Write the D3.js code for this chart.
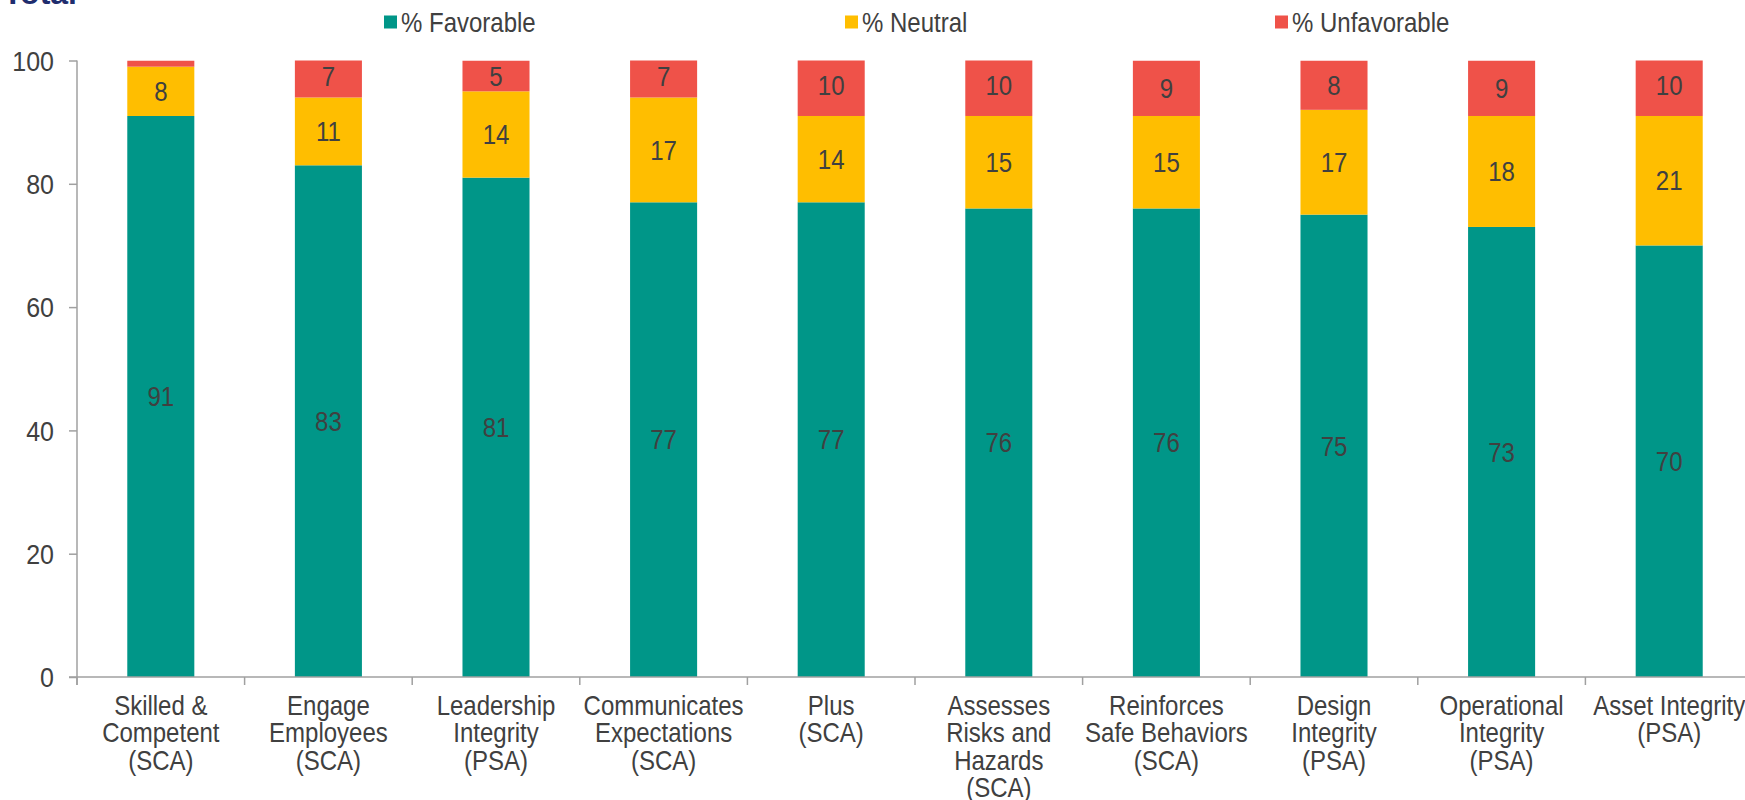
<!DOCTYPE html>
<html>
<head>
<meta charset="utf-8">
<script src="https://cdn.jsdelivr.net/npm/d3@7"></script>
<style>
  html, body { margin: 0; padding: 0; background: #ffffff; }
  svg { display: block; font-family: Arial, "Liberation Sans", sans-serif; }
</style>
</head>
<body>
<svg id="chart" width="1745" height="800"></svg>
<script>
// Survey dimensions, each label split into display lines
const categories = [
  ["Skilled &", "Competent", "(SCA)"],
  ["Engage", "Employees", "(SCA)"],
  ["Leadership", "Integrity", "(PSA)"],
  ["Communicates", "Expectations", "(SCA)"],
  ["Plus", "(SCA)"],
  ["Assesses", "Risks and", "Hazards", "(SCA)"],
  ["Reinforces", "Safe Behaviors", "(SCA)"],
  ["Design", "Integrity", "(PSA)"],
  ["Operational", "Integrity", "(PSA)"],
  ["Asset Integrity", "(PSA)"]
];
const favorable   = [91, 83, 81, 77, 77, 76, 76, 75, 73, 70];
const neutral     = [8, 11, 14, 17, 14, 15, 15, 17, 18, 21];
const unfavorable = [1, 7, 5, 7, 10, 10, 9, 8, 9, 10];
const seriesNames = ["% Favorable", "% Neutral", "% Unfavorable"];
const yTicks = [0, 20, 40, 60, 80, 100];

const colors = ["#009688", "#FFBE00", "#EF5249"];
const textColor = "#404040";
const axisColor = "#a0a0a0";
const FONT = 24;
const STRETCH = 1.13;   // glyphs drawn slightly taller than wide

const svg = d3.select("#chart");
const keys = categories.map((c, i) => "c" + i);
const rows = keys.map((k, i) => ({
  key: k, fav: favorable[i], neu: neutral[i], unf: unfavorable[i]
}));

const x = d3.scaleBand().domain(keys).range([77, 1753])
  .paddingInner(0.6).paddingOuter(0.3);
const y = d3.scaleLinear().domain([0, 100]).range([677, 60.5]);

// text placed at (px, py) with the vertical stretch applied
function label(parent, px, py, anchor, size) {
  return parent.append("text")
    .attr("transform", `translate(${px},${py}) scale(1,${STRETCH})`)
    .attr("text-anchor", anchor || "middle")
    .attr("font-size", size || FONT).attr("fill", textColor);
}

const stack = d3.stack().keys(["fav", "neu", "unf"]);
const layers = stack(rows);

// clip the stacks at the top of the value axis
svg.append("defs").append("clipPath").attr("id", "plotClip")
  .append("rect").attr("x", 0).attr("y", y(100))
  .attr("width", 1745).attr("height", y(0) - y(100));

const barsG = svg.append("g").attr("clip-path", "url(#plotClip)");
layers.forEach((layer, li) => {
  barsG.append("g").attr("fill", colors[li])
    .selectAll("rect").data(layer).join("rect")
    .attr("x", d => x(d.data.key))
    .attr("width", x.bandwidth())
    .attr("y", d => y(d[1]))
    .attr("height", d => y(d[0]) - y(d[1]));
});

// segment value labels
const labelsG = svg.append("g");
layers.forEach(layer => {
  layer.filter(d => d[1] - d[0] >= 2).forEach(d => {
    label(labelsG, x(d.data.key) + x.bandwidth() / 2, y((d[0] + d[1]) / 2))
      .attr("dy", "0.36em").text(d[1] - d[0]);
  });
});

// value axis
const yAxis = svg.append("g").attr("transform", "translate(77,0)")
  .call(d3.axisLeft(y).tickValues(yTicks).tickSize(8).tickFormat(""));
yAxis.select(".domain").remove();
yAxis.selectAll(".tick line").attr("stroke", axisColor).attr("stroke-width", 1.5);
yTicks.forEach(v => {
  label(svg, 54, y(v), "end", 25).attr("dy", "0.36em").text(v);
});
svg.append("line")
  .attr("x1", 77).attr("x2", 77).attr("y1", y(100)).attr("y2", y(0) + 8)
  .attr("stroke", axisColor).attr("stroke-width", 1.5);

// category axis
svg.append("line")
  .attr("x1", 69).attr("x2", 1745).attr("y1", y(0)).attr("y2", y(0))
  .attr("stroke", axisColor).attr("stroke-width", 1.5);
const step = x.step();
const bounds = d3.range(keys.length + 1).map(i => x.range()[0] + i * step);
svg.append("g").selectAll("line").data(bounds).join("line")
  .attr("x1", d => d).attr("x2", d => d)
  .attr("y1", y(0)).attr("y2", y(0) + 8)
  .attr("stroke", axisColor).attr("stroke-width", 1.5);

const catG = svg.append("g");
keys.forEach((k, i) => {
  const t = label(catG, x(k) + x.bandwidth() / 2, 715);
  categories[i].forEach((line, j) => {
    t.append("tspan").attr("x", 0)
      .attr("dy", j === 0 ? 0 : 27.3 / STRETCH).text(line);
  });
});

// legend
const legendX = [384, 845, 1275];
const legend = svg.append("g");
seriesNames.forEach((name, i) => {
  legend.append("rect").attr("x", legendX[i]).attr("y", 15.5)
    .attr("width", 13).attr("height", 13).attr("fill", colors[i]);
  label(legend, legendX[i] + 17, 22, "start").attr("dy", "0.36em").text(name);
});

// heading, mostly above the visible area
svg.append("text").attr("x", 77).attr("y", 4).attr("text-anchor", "end")
  .attr("font-size", 32).attr("font-weight", "bold").attr("fill", "#1F2D6E")
  .text("Total");
</script>
</body>
</html>
